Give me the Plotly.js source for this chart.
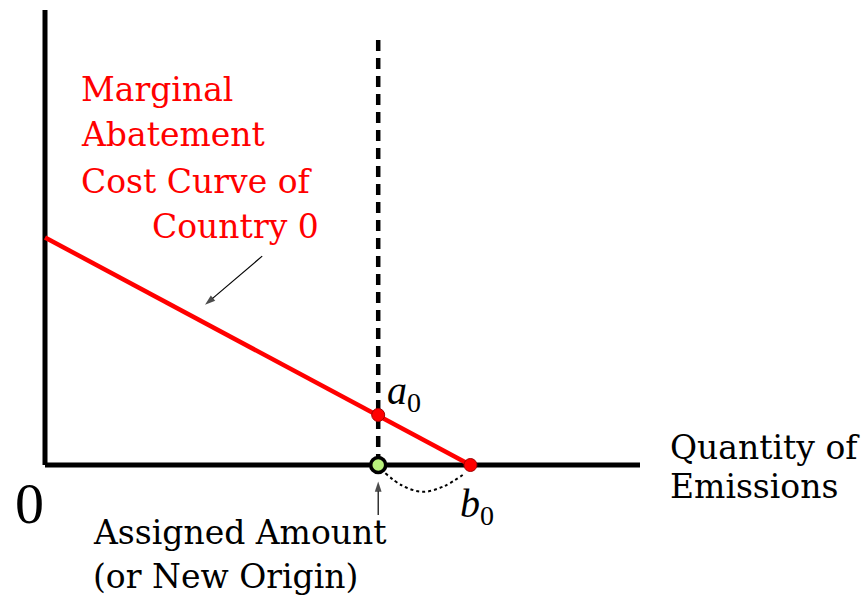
<!DOCTYPE html>
<html>
<head>
<meta charset="utf-8">
<script src="https://cdn.plot.ly/plotly-3.0.1.min.js"></script>
<style>html,body{margin:0;padding:0;background:#fff;}#chart{width:863px;height:602px;}</style>
</head>
<body>
<div id="chart"></div>
<script>
// ---- data (abstract units) ----
const axisLength = 10;              // length of both drawn axes
const macX = [0, 7.15];             // marginal abatement cost curve x
const macY = [5.0, 0];              // marginal abatement cost curve y
const assignedAmount = 5.6;         // assigned amount (new origin) on x
const dashedTop = 9.45;             // top of the vertical dashed line
const pointA0 = [5.6, 1.1];         // a0
const pointB0 = [7.15, 0];          // b0
const arcX = [5.72, 6.0, 6.35, 6.7, 7.02];
const arcY = [-0.18, -0.45, -0.59, -0.47, -0.22];
const arrowCurveX = [3.65, 2.69];   // pointer to the cost curve (tail, head)
const arrowCurveY = [4.59, 3.52];
const arrowOriginY = [-1.1, -0.36]; // pointer to the new origin (tail, head)

const W = 863, H = 602;
const ox = 45, oy = 465, ux = 59.5, uy = 45.5;   // pixel mapping
const xr = [-ox / ux, (W - ox) / ux];
const yr = [-(H - oy) / uy, oy / uy];
const px = v => v / W, py = v => 1 - v / H;

const serif = "DejaVu Serif, serif";
const serif2 = "Liberation Serif, Times New Roman, serif";

const arrowMarker = {symbol: 'arrow', angleref: 'previous', size: [0, 11], color: '#000', line: {width: 0}};
const traces = [
  {x: [0, 0], y: [axisLength, 0], mode: 'lines', line: {color: '#000', width: 5}, hoverinfo: 'skip'},
  {x: [0, axisLength], y: [0, 0], mode: 'lines', line: {color: '#000', width: 5}, hoverinfo: 'skip'},
  {x: macX, y: macY, mode: 'lines', line: {color: '#ff0000', width: 4.5}, hoverinfo: 'skip'},
  {x: [assignedAmount, assignedAmount], y: [0, dashedTop], mode: 'lines',
   line: {color: '#000', width: 4.5, dash: '11px,7px'}, hoverinfo: 'skip'},
  {x: arcX, y: arcY, mode: 'lines', line: {color: '#000', width: 2, dash: 'dot', shape: 'spline'}, hoverinfo: 'skip'},
  {x: arrowCurveX, y: arrowCurveY, mode: 'lines+markers', line: {color: '#000', width: 1.2}, marker: arrowMarker, hoverinfo: 'skip'},
  {x: [assignedAmount, assignedAmount], y: arrowOriginY, mode: 'lines+markers', line: {color: '#000', width: 1.2}, marker: arrowMarker, hoverinfo: 'skip'},
  {x: [pointA0[0], pointB0[0]], y: [pointA0[1], pointB0[1]], mode: 'markers',
   marker: {color: '#ff0000', size: 13, line: {color: '#a00000', width: 1}}, hoverinfo: 'skip'},
  {x: [assignedAmount], y: [0], mode: 'markers',
   marker: {color: '#b9f27c', size: 15, line: {color: '#000', width: 3.5}}, hoverinfo: 'skip'}
];

const red = {family: serif, size: 33, color: '#ff0000'};
const blk = {family: serif, size: 33, color: '#000'};
const ital = {family: serif2, size: 40, color: '#000'};
function txt(t, x, y, xa, font) {
  return {text: t, xref: 'paper', yref: 'paper', x: px(x), y: py(y), xanchor: xa, yanchor: 'middle',
          showarrow: false, font: font};
}
const annotations = [
  txt('Marginal', 79, 90, 'left', red),
  txt('Abatement', 79, 134, 'left', red),
  txt('Cost Curve of', 79, 181, 'left', red),
  txt('Country 0', 321, 226, 'right', red),
  txt('Quantity of', 668, 447, 'left', blk),
  txt('Emissions', 668, 486, 'left', blk),
  txt('Assigned Amount', 91, 532, 'left', blk),
  txt('(or New Origin)', 91, 576, 'left', blk),
  txt('0', 29, 503, 'center', {family: serif2, size: 58, color: '#000'}),
  txt('<i>a</i><sub>0</sub>', 385, 393, 'left', ital),
  txt('<i>b</i><sub>0</sub>', 458, 506, 'left', ital)
];

const layout = {
  width: W, height: H,
  margin: {l: 0, r: 0, t: 0, b: 0},
  paper_bgcolor: '#fff', plot_bgcolor: '#fff',
  showlegend: false,
  xaxis: {range: xr, visible: false, fixedrange: true},
  yaxis: {range: yr, visible: false, fixedrange: true},
  annotations: annotations
};
Plotly.newPlot('chart', traces, layout, {staticPlot: true});
</script>
</body>
</html>
